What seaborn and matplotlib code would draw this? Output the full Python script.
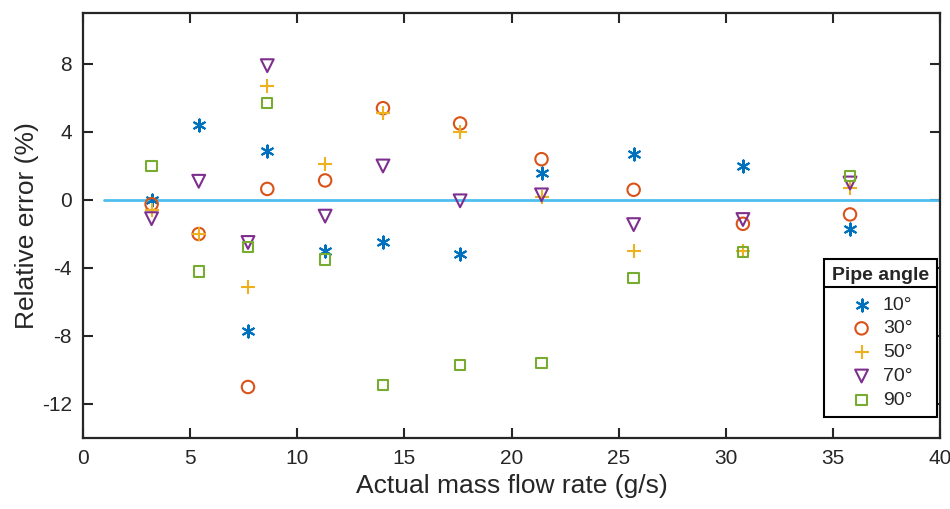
import numpy as np
import pandas as pd
import matplotlib
matplotlib.use("Agg")
import matplotlib.pyplot as plt
import seaborn as sns
from matplotlib.lines import Line2D

sns.set_style("ticks")
plt.rcParams['font.family'] = ['Liberation Sans', 'DejaVu Sans']
plt.rcParams['axes.unicode_minus'] = False

# mass flow rates (g/s) shared by every pipe angle
flow = [3.2, 5.4, 7.7, 8.6, 11.3, 14.0, 17.6, 21.4, 25.7, 30.8, 35.8]

# relative error (%) per pipe angle
err_10 = [0.0, 4.4, -7.7, 2.9, -3.0, -2.5, -3.2, 1.6, 2.7, 2.0, -1.7]
err_30 = [-0.25, -2.0, -11.0, 0.65, 1.15, 5.4, 4.5, 2.4, 0.6, -1.4, -0.85]
err_50 = [-0.6, -2.0, -5.1, 6.7, 2.1, 5.1, 4.0, 0.2, -3.0, -3.0, 0.7]
err_70 = [-1.1, 1.1, -2.5, 7.9, -0.95, 2.0, -0.05, 0.3, -1.45, -1.15, 1.0]
err_90 = [2.0, -4.2, -2.75, 5.7, -3.5, -10.9, -9.7, -9.6, -4.6, -3.05, 1.4]

angles = ['10°', '30°', '50°', '70°', '90°']
errors = [err_10, err_30, err_50, err_70, err_90]

df = pd.concat([pd.DataFrame({'flow': flow, 'error': e, 'angle': a})
                for a, e in zip(angles, errors)], ignore_index=True)

colors = ['#0072BD', '#D95319', '#EDB120', '#7E2F8E', '#77AC30']
markers = [(6, 2, 0), 'o', '+', 'v', 's']
sizes = [75, 80, 90, 85, 55]

fig = plt.figure(figsize=(9.5, 5.09), dpi=100)
ax = fig.add_axes([0.0874, 0.1395, 0.9021, 0.835])

# zero reference line
ax.plot([1, 40], [0, 0], color='#4DBEEE', lw=2, zorder=1)

for a, c, m, s in zip(angles, colors, markers, sizes):
    sub = df[df['angle'] == a]
    if m in ['o', 'v', 's']:
        sns.scatterplot(data=sub, x='flow', y='error', marker=m, s=s,
                        facecolor='none', edgecolor=c, linewidth=1.5,
                        label=a, ax=ax, zorder=3)
    else:
        sns.scatterplot(data=sub, x='flow', y='error', marker=m, s=s,
                        color=c, linewidth=1.5, label=a, ax=ax, zorder=3)

ax.set_xlim(0, 40)
ax.set_ylim(-14, 11)
ax.set_xticks(np.arange(0, 41, 5))
ax.set_yticks([-12, -8, -4, 0, 4, 8])
ax.set_xlabel('Actual mass flow rate (g/s)', fontsize=19, labelpad=4)
ax.set_ylabel('Relative error (%)', fontsize=19, labelpad=2)
ax.tick_params(direction='in', length=7, width=1.5, labelsize=15,
               top=True, right=True, pad=8)
for sp in ax.spines.values():
    sp.set_linewidth(1.6)
    sp.set_color('#262626')

leg = ax.legend(title='Pipe angle', loc='lower right',
                bbox_to_anchor=(0.9965, 0.05), borderaxespad=0,
                fancybox=False, edgecolor='black', framealpha=1,
                fontsize=14, title_fontproperties={'weight': 'bold', 'size': 14},
                handletextpad=0.45, handlelength=1.3, borderpad=0.4,
                labelspacing=0.32, markerscale=1.0)
leg.get_frame().set_linewidth(1.5)
leg._legend_box.align = 'center'
leg._legend_box.sep = 9

# separator line under the legend title
fig.canvas.draw()
fb = leg.get_frame().get_window_extent()
tb = leg.get_title().get_window_extent()
inv = fig.transFigure.inverted()
(x0, y0), (x1, _) = inv.transform([[fb.x0, tb.y0 - 3], [fb.x1, tb.y0 - 3]])
fig.add_artist(Line2D([x0, x1], [y0, y0], color='black', lw=1.5))

fig.savefig('out.png', dpi=100)
